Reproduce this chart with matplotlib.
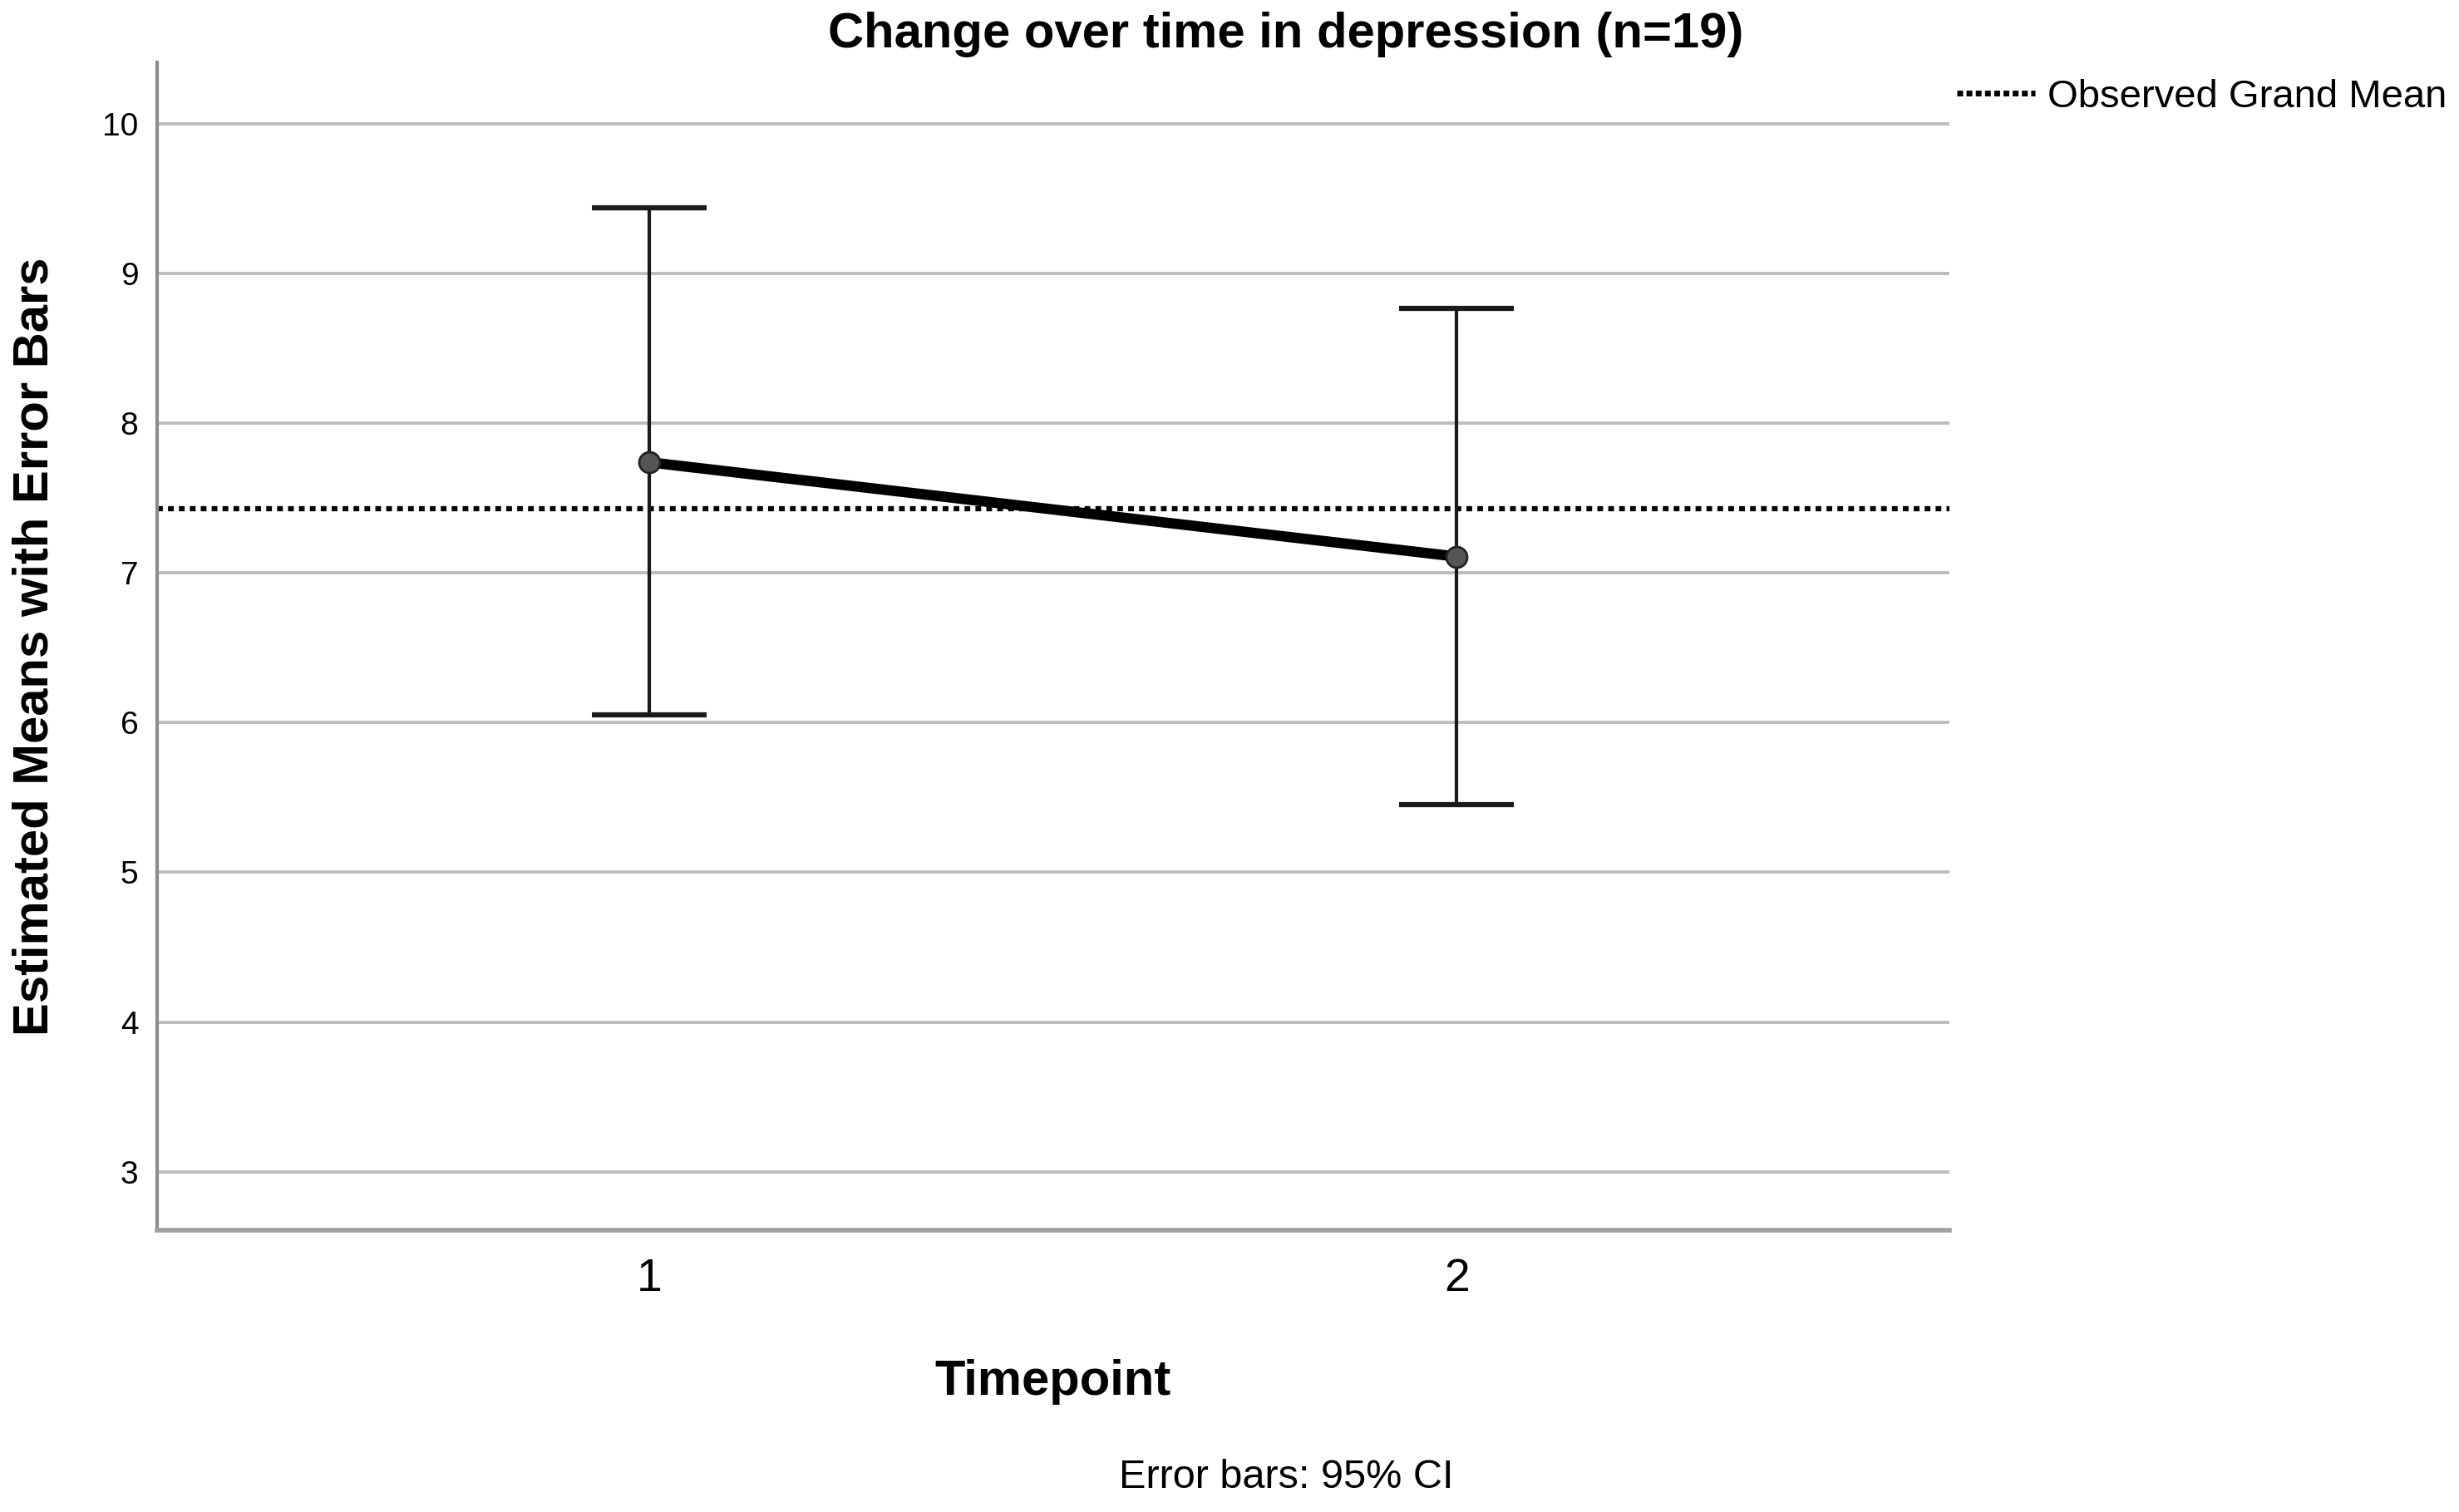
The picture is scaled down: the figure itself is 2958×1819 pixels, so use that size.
import matplotlib
matplotlib.use("Agg")
import matplotlib.pyplot as plt
from matplotlib.lines import Line2D

plt.rcParams['font.family'] = ['Liberation Sans', 'DejaVu Sans']

# ---- data ----
timepoints = [1, 2]
tick_labels = ["1", "2"]
means = [7.74, 7.11]
ci_low = [6.05, 5.45]
ci_high = [9.44, 8.77]
grand_mean = 7.43
y_ticks = [3, 4, 5, 6, 7, 8, 9, 10]

title = "Change over time in depression (n=19)"
x_label = "Timepoint"
y_label = "Estimated Means with Error Bars"
legend_label = "Observed Grand Mean"
footnote = "Error bars: 95% CI"

W, H = 2958, 1819
fig = plt.figure(figsize=(W / 100, H / 100), dpi=100)
ax = fig.add_axes([0.0638, 0.1865, 0.7289, 0.772])

ax.set_xlim(0.39, 2.61)
ax.set_ylim(2.61, 10.41)

# grid lines
for yv in y_ticks:
    ax.axhline(yv, color="#bdbdbd", lw=2.8, zorder=0)

# error bars
lower_err = [m - lo for m, lo in zip(means, ci_low)]
upper_err = [hi - m for m, hi in zip(means, ci_high)]
ax.errorbar(timepoints, means, yerr=[lower_err, upper_err], fmt="none",
            ecolor="#1a1a1a", elinewidth=3.0, capsize=50, capthick=4.5, zorder=3)

# grand mean
ax.axhline(grand_mean, color="black", lw=4.5, linestyle=(0, (1.1, 1.0)),
           zorder=2, label=legend_label)

# mean line
ax.plot(timepoints, means, color="black", lw=9, zorder=4, solid_capstyle="butt")
ax.plot(timepoints, means, linestyle="none", marker="o", markersize=18,
        markerfacecolor="#555555", markeredgecolor="#222222", markeredgewidth=2, zorder=5)

# axes styling
for s in ["top", "right"]:
    ax.spines[s].set_visible(False)
ax.spines["left"].set_color("#8c8c8c")
ax.spines["left"].set_linewidth(3)
ax.spines["bottom"].set_color("#a0a0a0")
ax.spines["bottom"].set_linewidth(4)

ax.set_yticks(y_ticks)
ax.set_yticklabels([str(v) for v in y_ticks])
ax.set_xticks(timepoints)
ax.set_xticklabels(tick_labels)
ax.tick_params(axis="y", length=0, pad=16, labelsize=28)
ax.tick_params(axis="x", length=0, pad=24, labelsize=40)

ax.set_xlabel(x_label, fontsize=43, fontweight="bold", va="center")
ax.xaxis.set_label_coords(0.5, -0.130)
ax.set_ylabel(y_label, fontsize=43, fontweight="bold", va="center")
ax.yaxis.set_label_coords(-0.068, 0.5)

fig.text(0.523, 0.977, title, fontsize=43, fontweight="bold", ha="center", va="center")
fig.text(0.523, 0.023, footnote, fontsize=35, ha="center", va="center")

leg_handle = Line2D([], [], color="black", lw=5, linestyle=(0, (1.0, 0.6)))
fig.legend([leg_handle], [legend_label], loc="center left",
           bbox_to_anchor=(2354 / W, 1 - 117 / H), frameon=False,
           fontsize=34, handlelength=2.0, handletextpad=0.3,
           borderpad=0, borderaxespad=0)

fig.savefig("out.png", dpi=100)
